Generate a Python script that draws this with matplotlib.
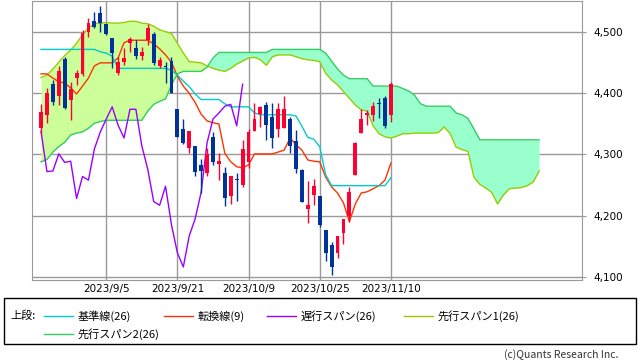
import numpy as np
import matplotlib.pyplot as plt
from matplotlib.lines import Line2D
from matplotlib.patches import Rectangle
from matplotlib.ticker import FuncFormatter

plt.rcParams['font.family'] = ['Noto Sans CJK JP', 'DejaVu Sans']

# daily candles (60 sessions, last one = 2023/11/10)
opens = [4344, 4365, 4415, 4396, 4456, 4390, 4426, 4432, 4501, 4518,
         4531, 4513, 4490, 4434, 4451, 4482, 4474, 4462, 4487, 4498,
         4445, 4445, 4453, 4374, 4342, 4310, 4314, 4283, 4269, 4329,
         4284, 4270, 4232, 4260, 4250, 4288, 4339, 4367, 4381, 4362,
         4342, 4344, 4358, 4322, 4275, 4210, 4234, 4232, 4176, 4152,
         4138, 4171, 4199, 4266, 4335, 4365, 4365, 4384, 4393, 4364]
highs = [4383, 4409, 4422, 4445, 4460, 4419, 4438, 4504, 4523, 4534,
         4543, 4515, 4491, 4460, 4475, 4493, 4487, 4476, 4513, 4500,
         4460, 4452, 4460, 4374, 4358, 4338, 4314, 4292, 4310, 4337,
         4303, 4280, 4264, 4269, 4324, 4342, 4385, 4379, 4386, 4384,
         4385, 4395, 4362, 4340, 4276, 4257, 4260, 4232, 4176, 4156,
         4167, 4195, 4246, 4321, 4374, 4373, 4386, 4392, 4395, 4419]
lows = [4333, 4352, 4381, 4381, 4374, 4357, 4414, 4428, 4493, 4507,
        4501, 4496, 4442, 4430, 4446, 4468, 4457, 4454, 4479, 4446,
        4441, 4417, 4401, 4329, 4317, 4302, 4265, 4237, 4265, 4283,
        4259, 4216, 4219, 4224, 4247, 4278, 4339, 4345, 4324, 4311,
        4329, 4344, 4303, 4269, 4222, 4188, 4217, 4181, 4126, 4102,
        4131, 4153, 4189, 4266, 4335, 4348, 4354, 4359, 4344, 4353]
closes = [4370, 4400, 4386, 4437, 4376, 4408, 4433, 4499, 4516, 4508,
          4516, 4497, 4466, 4451, 4458, 4489, 4462, 4468, 4507, 4449,
          4454, 4444, 4401, 4329, 4319, 4338, 4272, 4273, 4301, 4287,
          4289, 4228, 4264, 4258, 4309, 4337, 4358, 4378, 4348, 4327,
          4374, 4374, 4314, 4276, 4223, 4217, 4248, 4185, 4139, 4116,
          4167, 4195, 4238, 4319, 4358, 4368, 4379, 4382, 4347, 4415]

tenkan = [4432, 4432, 4425, 4419, 4417, 4409, 4399, 4412, 4425, 4445,
          4450, 4450, 4450, 4458, 4483, 4487, 4487, 4487, 4487, 4481,
          4473, 4463, 4451, 4428, 4412, 4400, 4385, 4366, 4355, 4352,
          4350, 4302, 4288, 4280, 4278, 4283, 4301, 4301, 4301, 4301,
          4304, 4307, 4327, 4316, 4307, 4291, 4289, 4288, 4263, 4247,
          4237, 4221, 4190, 4219, 4237, 4239, 4244, 4249, 4258, 4286]
kijun = [4472, 4472, 4472, 4472, 4472, 4472, 4472, 4472, 4472, 4472,
         4468, 4466, 4461, 4441, 4441, 4441, 4441, 4441, 4441, 4441,
         4441, 4441, 4438, 4430, 4420, 4411, 4399, 4390, 4390, 4390,
         4390, 4383, 4378, 4378, 4378, 4378, 4368, 4365, 4365, 4365,
         4365, 4365, 4365, 4363, 4346, 4328, 4325, 4313, 4267, 4249,
         4249, 4249, 4249, 4249, 4249, 4249, 4249, 4249, 4249, 4262]

# leading spans, 85 points (25 sessions ahead of the last candle)
span1 = [4426, 4430, 4440, 4451, 4462, 4471, 4482, 4496, 4507, 4514,
         4515, 4516, 4515, 4515, 4516, 4518, 4518, 4515, 4514, 4510,
         4504, 4501, 4498, 4482, 4466, 4452, 4451, 4450, 4445, 4441,
         4438, 4436, 4441, 4448, 4453, 4458, 4459, 4455, 4446, 4460,
         4463, 4463, 4463, 4460, 4457, 4455, 4454, 4452, 4433, 4422,
         4414, 4403, 4392, 4381, 4373, 4371, 4347, 4334, 4329, 4327,
         4330, 4334, 4334, 4335, 4335, 4335, 4335, 4336, 4345, 4334,
         4312, 4308, 4305, 4263, 4251, 4245, 4238, 4219, 4234, 4244,
         4245, 4246, 4249, 4255, 4273]
span2 = [4288, 4292, 4304, 4313, 4320, 4332, 4335, 4337, 4343, 4351,
         4354, 4356, 4356, 4356, 4356, 4356, 4356, 4356, 4371, 4382,
         4387, 4391, 4414, 4432, 4436, 4436, 4436, 4436, 4443, 4458,
         4467, 4467, 4467, 4467, 4467, 4467, 4467, 4467, 4467, 4472,
         4472, 4472, 4472, 4472, 4472, 4472, 4472, 4472, 4466, 4453,
         4440, 4430, 4424, 4424, 4424, 4424, 4412, 4412, 4412, 4412,
         4412, 4408, 4404, 4397, 4383, 4379, 4379, 4379, 4379, 4379,
         4368, 4365, 4359, 4342, 4324, 4324, 4324, 4324, 4324, 4324,
         4324, 4324, 4324, 4324, 4324]

chikou_shift = 25
date_pos = [11, 23, 35, 47, 59]
date_labels = ['2023/9/5', '2023/9/21', '2023/10/9', '2023/10/25', '2023/11/10']
legend_names = ['基準線(26)', '転換線(9)', '遅行スパン(26)', '先行スパン1(26)', '先行スパン2(26)']

c_up, c_down = '#ff0033', '#003399'
c_tenkan, c_kijun, c_chikou = '#ff3300', '#00cccc', '#9900ff'
c_span1, c_span2 = '#99cc00', '#33cc66'
c_grid = '#999999'

W, H = 638, 362
fig = plt.figure(figsize=(W / 100, H / 100), dpi=100)
ax = fig.add_axes([32 / W, 1 - 280 / H, 550 / W, 279.3 / H])

s1 = np.array(span1)
s2 = np.array(span2)
xs = np.arange(len(s1))
ax.fill_between(xs, s1, s2, where=s1 >= s2, interpolate=True, color='#ccff99', lw=0, zorder=1)
ax.fill_between(xs, s1, s2, where=s1 < s2, interpolate=True, color='#99ffcc', lw=0, zorder=1)
ax.plot(xs, s1, color=c_span1, lw=1, zorder=2)
ax.plot(xs, s2, color=c_span2, lw=1, zorder=2)

n = len(closes)
x = np.arange(n)
ax.plot(x, tenkan, color=c_tenkan, lw=1, zorder=3)
ax.plot(x, kijun, color=c_kijun, lw=1, zorder=3)
ax.plot(x[:n - chikou_shift], closes[chikou_shift:], color=c_chikou, lw=1, zorder=3)

o = np.array(opens)
c = np.array(closes)
colors = np.where(c >= o, c_up, c_down)
ax.vlines(x, lows, highs, colors=colors, lw=1, zorder=4)
body = np.maximum(np.abs(c - o), 1.2)
ax.bar(x, body, bottom=np.minimum(o, c), width=0.65, color=colors, lw=0, zorder=5)

ax.set_xlim(-1.52, 91.23)
ax.set_ylim(4094.6, 4551.7)
ax.set_yticks([4100, 4200, 4300, 4400, 4500])
ax.yaxis.set_major_formatter(FuncFormatter(lambda v, p: f'{v:,.0f}'))
ax.yaxis.tick_right()
ax.set_xticks(date_pos, date_labels)
ax.tick_params(axis='y', length=3, color=c_grid, labelsize=7.5, pad=5)
ax.tick_params(axis='x', length=0, labelsize=7.5, pad=3)
for lab in ax.get_xticklabels() + ax.get_yticklabels():
    lab.set_family('DejaVu Sans')
ax.grid(color=c_grid, lw=1)
ax.set_axisbelow(True)
for sp in ax.spines.values():
    sp.set_color(c_grid)


def fx(px):
    return px / W


def fy(py):
    return 1 - py / H


fig.add_artist(Rectangle((fx(3.5), fy(343.5)), (636 - 3.5) / W, (343.5 - 297.5) / H,
                         transform=fig.transFigure, fill=False, ec='black', lw=1))
fig.text(fx(10), fy(316), '上段:', fontsize=8, va='center', ha='left')
legend_colors = [c_kijun, c_tenkan, c_chikou, c_span1, c_span2]
slots = [(44, 316), (164, 316), (267, 316), (404, 316), (44, 334)]
for name, col, (lx, ly) in zip(legend_names, legend_colors, slots):
    fig.add_artist(Line2D([fx(lx), fx(lx + 29)], [fy(ly), fy(ly)], color=col, lw=1,
                          transform=fig.transFigure))
    fig.text(fx(lx + 34), fy(ly), name, fontsize=8, va='center', ha='left')

fig.text(fx(618), fy(355), '(c)Quants Research Inc.', fontsize=7.5, color='#333333',
         ha='right', va='center')

fig.savefig('out.png', dpi=100)
